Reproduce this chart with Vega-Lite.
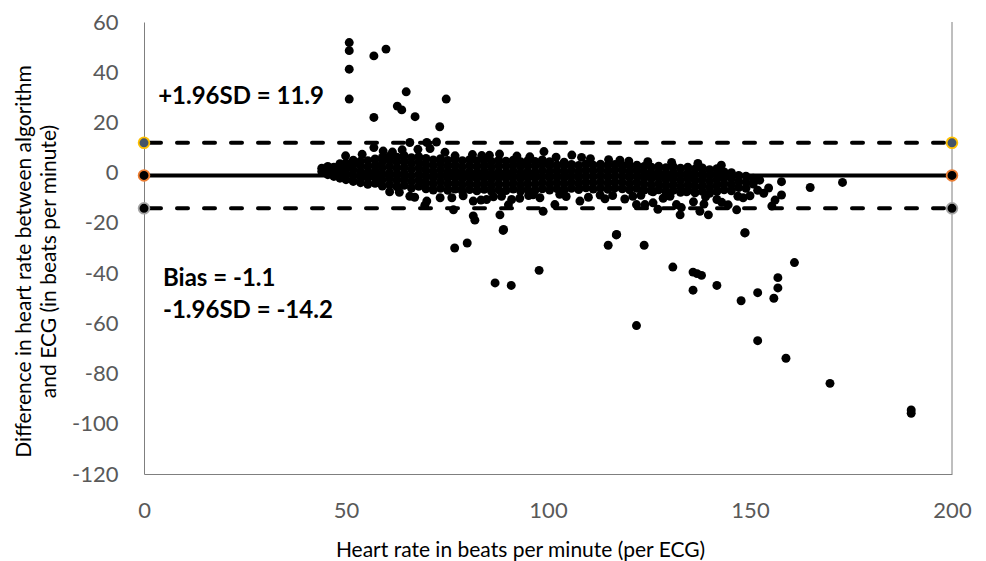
{
  "$schema": "https://vega.github.io/schema/vega-lite/v6.json",
  "width": 808,
  "height": 452,
  "autosize": {"type": "none"},
  "padding": {"left": 144, "top": 22, "right": 34, "bottom": 87},
  "background": "white",
  "config": {"view": {"stroke": null}, "font": "Lato"},
  "datasets": {
    "pts": [
      {"hr":50.8,"diff":51.8},{"hr":50.8,"diff":48.6},{"hr":50.8,"diff":41.2},{"hr":50.8,"diff":29.3},{"hr":56.9,"diff":46.5},{"hr":59.9,"diff":49.2},{"hr":56.9,"diff":22},{"hr":64.9,"diff":32.2},{"hr":62.7,"diff":26.5},{"hr":63.8,"diff":25},{"hr":67.1,"diff":22.3},{"hr":74.8,"diff":29.3},{"hr":73.2,"diff":18.3},
      {"hr":49.9,"diff":6.7},{"hr":56.9,"diff":10},{"hr":59.2,"diff":8.6},{"hr":65.8,"diff":12},{"hr":70,"diff":12},{"hr":72.4,"diff":12.2},{"hr":77,"diff":6.7},{"hr":81.3,"diff":7.2},{"hr":99,"diff":8.4},{"hr":105.9,"diff":7},{"hr":61.5,"diff":8.2},{"hr":67.8,"diff":9.3},{"hr":74.5,"diff":8.1},{"hr":85.5,"diff":6.9},{"hr":92.3,"diff":6.6},{"hr":110.5,"diff":5.6},{"hr":95.5,"diff":6.3},{"hr":88,"diff":7.4},{"hr":115,"diff":5.2},{"hr":120,"diff":4.6},{"hr":102,"diff":6.2},{"hr":70.8,"diff":9.6},{"hr":54,"diff":7.3},
      {"hr":108.3,"diff":6.1},{"hr":124.7,"diff":4.4},{"hr":130.6,"diff":4.1},{"hr":137.1,"diff":3.7},{"hr":142.9,"diff":3.0},{"hr":117.8,"diff":5.0},{"hr":83.6,"diff":6.8},{"hr":63.9,"diff":9.1},
      {"hr":44.0,"diff":0.5},{"hr":44.0,"diff":1.8},
      {"hr":45.5,"diff":-0.8},{"hr":45.5,"diff":1.2},{"hr":45.5,"diff":2.5},
      {"hr":47.0,"diff":-1.5},{"hr":47.0,"diff":0.3},{"hr":47.0,"diff":2.2},
      {"hr":48.5,"diff":-2.2},{"hr":48.5,"diff":0.0},{"hr":48.5,"diff":2.1},{"hr":48.5,"diff":3.6},
      {"hr":50.0,"diff":-2.8},{"hr":50.0,"diff":-0.5},{"hr":50.0,"diff":1.8},{"hr":50.0,"diff":3.9},
      {"hr":51.8,"diff":-3.5},{"hr":51.8,"diff":-1.2},{"hr":51.8,"diff":1.0},{"hr":51.8,"diff":3.2},{"hr":51.8,"diff":5.0},
      {"hr":53.6,"diff":-4.0},{"hr":53.6,"diff":-1.8},{"hr":53.6,"diff":0.5},{"hr":53.6,"diff":2.8},{"hr":53.6,"diff":4.6},
      {"hr":55.4,"diff":-4.6},{"hr":55.4,"diff":-2.2},{"hr":55.4,"diff":0.1},{"hr":55.4,"diff":2.4},{"hr":55.4,"diff":4.8},
      {"hr":57.2,"diff":-4.2},{"hr":57.2,"diff":-1.9},{"hr":57.2,"diff":0.6},{"hr":57.2,"diff":3.0},{"hr":57.2,"diff":5.5},
      {"hr":59.0,"diff":-5.3},{"hr":59.0,"diff":-2.9},{"hr":59.0,"diff":-0.5},{"hr":59.0,"diff":1.9},{"hr":59.0,"diff":4.2},{"hr":59.0,"diff":6.1},
      {"hr":60.8,"diff":-4.8},{"hr":60.8,"diff":-2.4},{"hr":60.8,"diff":0.0},{"hr":60.8,"diff":2.5},{"hr":60.8,"diff":4.9},{"hr":60.8,"diff":6.6},
      {"hr":62.6,"diff":-5.6},{"hr":62.6,"diff":-3.1},{"hr":62.6,"diff":-0.7},{"hr":62.6,"diff":1.7},{"hr":62.6,"diff":4.1},{"hr":62.6,"diff":6.2},
      {"hr":64.4,"diff":-5.0},{"hr":64.4,"diff":-2.6},{"hr":64.4,"diff":-0.2},{"hr":64.4,"diff":2.2},{"hr":64.4,"diff":4.6},{"hr":64.4,"diff":6.8},
      {"hr":66.2,"diff":-6.1},{"hr":66.2,"diff":-3.6},{"hr":66.2,"diff":-1.2},{"hr":66.2,"diff":1.3},{"hr":66.2,"diff":3.7},{"hr":66.2,"diff":6.0},
      {"hr":68.0,"diff":-5.4},{"hr":68.0,"diff":-3.0},{"hr":68.0,"diff":-0.6},{"hr":68.0,"diff":1.9},{"hr":68.0,"diff":4.3},{"hr":68.0,"diff":6.4},
      {"hr":69.8,"diff":-6.4},{"hr":69.8,"diff":-4.0},{"hr":69.8,"diff":-1.5},{"hr":69.8,"diff":0.9},{"hr":69.8,"diff":3.3},{"hr":69.8,"diff":5.7},
      {"hr":71.6,"diff":-6.9},{"hr":71.6,"diff":-4.5},{"hr":71.6,"diff":-2.1},{"hr":71.6,"diff":0.4},{"hr":71.6,"diff":2.8},{"hr":71.6,"diff":5.1},
      {"hr":73.4,"diff":-6.2},{"hr":73.4,"diff":-3.7},{"hr":73.4,"diff":-1.3},{"hr":73.4,"diff":1.1},{"hr":73.4,"diff":3.5},{"hr":73.4,"diff":5.6},
      {"hr":75.2,"diff":-7.0},{"hr":75.2,"diff":-4.6},{"hr":75.2,"diff":-2.2},{"hr":75.2,"diff":0.2},{"hr":75.2,"diff":2.6},{"hr":75.2,"diff":4.9},
      {"hr":77.0,"diff":-6.5},{"hr":77.0,"diff":-4.1},{"hr":77.0,"diff":-1.7},{"hr":77.0,"diff":0.8},{"hr":77.0,"diff":3.2},{"hr":77.0,"diff":5.4},
      {"hr":78.8,"diff":-7.3},{"hr":78.8,"diff":-4.9},{"hr":78.8,"diff":-2.5},{"hr":78.8,"diff":-0.1},{"hr":78.8,"diff":2.3},{"hr":78.8,"diff":4.8},
      {"hr":80.6,"diff":-6.7},{"hr":80.6,"diff":-4.3},{"hr":80.6,"diff":-1.9},{"hr":80.6,"diff":0.5},{"hr":80.6,"diff":2.9},{"hr":80.6,"diff":5.2},
      {"hr":82.4,"diff":-7.2},{"hr":82.4,"diff":-4.8},{"hr":82.4,"diff":-2.4},{"hr":82.4,"diff":0.0},{"hr":82.4,"diff":2.4},{"hr":82.4,"diff":4.7},
      {"hr":84.2,"diff":-6.6},{"hr":84.2,"diff":-4.2},{"hr":84.2,"diff":-1.8},{"hr":84.2,"diff":0.6},{"hr":84.2,"diff":3.0},{"hr":84.2,"diff":5.0},
      {"hr":86.0,"diff":-7.4},{"hr":86.0,"diff":-5.0},{"hr":86.0,"diff":-2.6},{"hr":86.0,"diff":-0.2},{"hr":86.0,"diff":2.2},{"hr":86.0,"diff":4.5},
      {"hr":87.8,"diff":-6.8},{"hr":87.8,"diff":-4.4},{"hr":87.8,"diff":-2.0},{"hr":87.8,"diff":0.4},{"hr":87.8,"diff":2.8},{"hr":87.8,"diff":4.9},
      {"hr":89.6,"diff":-7.1},{"hr":89.6,"diff":-4.7},{"hr":89.6,"diff":-2.3},{"hr":89.6,"diff":0.1},{"hr":89.6,"diff":2.5},{"hr":89.6,"diff":4.6},
      {"hr":91.4,"diff":-6.5},{"hr":91.4,"diff":-4.1},{"hr":91.4,"diff":-1.7},{"hr":91.4,"diff":0.7},{"hr":91.4,"diff":3.1},{"hr":91.4,"diff":5.0},
      {"hr":93.2,"diff":-7.3},{"hr":93.2,"diff":-4.9},{"hr":93.2,"diff":-2.5},{"hr":93.2,"diff":-0.1},{"hr":93.2,"diff":2.3},{"hr":93.2,"diff":4.4},
      {"hr":95.0,"diff":-6.7},{"hr":95.0,"diff":-4.3},{"hr":95.0,"diff":-1.9},{"hr":95.0,"diff":0.5},{"hr":95.0,"diff":2.9},{"hr":95.0,"diff":4.8},
      {"hr":96.8,"diff":-7.0},{"hr":96.8,"diff":-4.6},{"hr":96.8,"diff":-2.2},{"hr":96.8,"diff":0.2},{"hr":96.8,"diff":2.6},{"hr":96.8,"diff":4.5},
      {"hr":98.6,"diff":-6.4},{"hr":98.6,"diff":-4.0},{"hr":98.6,"diff":-1.6},{"hr":98.6,"diff":0.8},{"hr":98.6,"diff":3.2},{"hr":98.6,"diff":5.1},
      {"hr":100.4,"diff":-6.9},{"hr":100.4,"diff":-4.5},{"hr":100.4,"diff":-2.1},{"hr":100.4,"diff":0.3},{"hr":100.4,"diff":2.7},{"hr":100.4,"diff":4.4},
      {"hr":102.2,"diff":-6.3},{"hr":102.2,"diff":-3.9},{"hr":102.2,"diff":-1.5},{"hr":102.2,"diff":0.9},{"hr":102.2,"diff":3.1},
      {"hr":104.0,"diff":-6.8},{"hr":104.0,"diff":-4.4},{"hr":104.0,"diff":-2.0},{"hr":104.0,"diff":0.4},{"hr":104.0,"diff":2.8},{"hr":104.0,"diff":4.2},
      {"hr":105.8,"diff":-6.2},{"hr":105.8,"diff":-3.8},{"hr":105.8,"diff":-1.4},{"hr":105.8,"diff":1.0},{"hr":105.8,"diff":3.3},
      {"hr":107.6,"diff":-6.7},{"hr":107.6,"diff":-4.3},{"hr":107.6,"diff":-1.9},{"hr":107.6,"diff":0.5},{"hr":107.6,"diff":2.9},
      {"hr":109.4,"diff":-6.0},{"hr":109.4,"diff":-3.6},{"hr":109.4,"diff":-1.2},{"hr":109.4,"diff":1.2},{"hr":109.4,"diff":3.5},
      {"hr":111.2,"diff":-6.5},{"hr":111.2,"diff":-4.1},{"hr":111.2,"diff":-1.7},{"hr":111.2,"diff":0.7},{"hr":111.2,"diff":3.0},
      {"hr":113.0,"diff":-6.1},{"hr":113.0,"diff":-3.7},{"hr":113.0,"diff":-1.3},{"hr":113.0,"diff":1.1},{"hr":113.0,"diff":3.4},
      {"hr":114.8,"diff":-6.6},{"hr":114.8,"diff":-4.2},{"hr":114.8,"diff":-1.8},{"hr":114.8,"diff":0.6},{"hr":114.8,"diff":2.9},
      {"hr":116.6,"diff":-6.0},{"hr":116.6,"diff":-3.6},{"hr":116.6,"diff":-1.2},{"hr":116.6,"diff":1.2},{"hr":116.6,"diff":3.3},
      {"hr":118.4,"diff":-6.4},{"hr":118.4,"diff":-4.0},{"hr":118.4,"diff":-1.6},{"hr":118.4,"diff":0.8},{"hr":118.4,"diff":2.9},
      {"hr":120.2,"diff":-6.8},{"hr":120.2,"diff":-4.4},{"hr":120.2,"diff":-2.0},{"hr":120.2,"diff":0.4},{"hr":120.2,"diff":2.7},
      {"hr":122.0,"diff":-6.2},{"hr":122.0,"diff":-3.8},{"hr":122.0,"diff":-1.4},{"hr":122.0,"diff":1.0},{"hr":122.0,"diff":3.0},
      {"hr":123.8,"diff":-6.9},{"hr":123.8,"diff":-4.5},{"hr":123.8,"diff":-2.1},{"hr":123.8,"diff":0.3},{"hr":123.8,"diff":2.5},
      {"hr":125.6,"diff":-7.3},{"hr":125.6,"diff":-4.9},{"hr":125.6,"diff":-2.5},{"hr":125.6,"diff":-0.1},{"hr":125.6,"diff":2.2},
      {"hr":127.4,"diff":-6.8},{"hr":127.4,"diff":-4.4},{"hr":127.4,"diff":-2.0},{"hr":127.4,"diff":0.4},{"hr":127.4,"diff":2.6},
      {"hr":129.2,"diff":-7.6},{"hr":129.2,"diff":-5.2},{"hr":129.2,"diff":-2.8},{"hr":129.2,"diff":-0.4},{"hr":129.2,"diff":2.0},
      {"hr":131.0,"diff":-7.0},{"hr":131.0,"diff":-4.6},{"hr":131.0,"diff":-2.2},{"hr":131.0,"diff":0.2},{"hr":131.0,"diff":2.4},
      {"hr":132.8,"diff":-7.8},{"hr":132.8,"diff":-5.4},{"hr":132.8,"diff":-3.0},{"hr":132.8,"diff":-0.6},{"hr":132.8,"diff":1.8},
      {"hr":134.6,"diff":-7.2},{"hr":134.6,"diff":-4.8},{"hr":134.6,"diff":-2.4},{"hr":134.6,"diff":0.0},{"hr":134.6,"diff":2.2},
      {"hr":136.4,"diff":-8.0},{"hr":136.4,"diff":-5.6},{"hr":136.4,"diff":-3.2},{"hr":136.4,"diff":-0.8},{"hr":136.4,"diff":1.5},
      {"hr":138.2,"diff":-7.4},{"hr":138.2,"diff":-5.0},{"hr":138.2,"diff":-2.6},{"hr":138.2,"diff":-0.2},{"hr":138.2,"diff":1.9},
      {"hr":140.0,"diff":-8.2},{"hr":140.0,"diff":-5.8},{"hr":140.0,"diff":-3.4},{"hr":140.0,"diff":-1.0},{"hr":140.0,"diff":1.2},
      {"hr":141.8,"diff":-7.5},{"hr":141.8,"diff":-5.1},{"hr":141.8,"diff":-2.7},{"hr":141.8,"diff":-0.3},{"hr":141.8,"diff":1.6},
      {"hr":143.6,"diff":-6.8},{"hr":143.6,"diff":-4.4},{"hr":143.6,"diff":-2.0},{"hr":143.6,"diff":0.3},
      {"hr":145.4,"diff":-7.2},{"hr":145.4,"diff":-4.8},{"hr":145.4,"diff":-2.4},{"hr":145.4,"diff":0.0},
      {"hr":147.2,"diff":-5.9},{"hr":147.2,"diff":-3.5},{"hr":147.2,"diff":-1.1},
      {"hr":149.0,"diff":-6.2},{"hr":149.0,"diff":-3.8},{"hr":149.0,"diff":-1.4},
      {"hr":150.8,"diff":-4.5},{"hr":150.8,"diff":-2.2},
      {"hr":152.4,"diff":-3.0},
      {"hr":60.8,"diff":-7.6},{"hr":65.8,"diff":-9.4},{"hr":67,"diff":-9.8},{"hr":70,"diff":-11.3},{"hr":69.5,"diff":-13},{"hr":73.3,"diff":-10},{"hr":76.2,"diff":-10},{"hr":76.6,"diff":-14.8},{"hr":81.5,"diff":-11.3},{"hr":81.5,"diff":-17.2},{"hr":83.4,"diff":-10.9},{"hr":84.8,"diff":-10.7},{"hr":88.5,"diff":-9.4},{"hr":88.1,"diff":-16.8},{"hr":89,"diff":-22.6},{"hr":91,"diff":-10.7},{"hr":93,"diff":-10.2},{"hr":98,"diff":-10},{"hr":98.8,"diff":-15.4},{"hr":101.7,"diff":-12.7},{"hr":107.9,"diff":-11.3},{"hr":112.9,"diff":-8.9},{"hr":117,"diff":-24.6},{"hr":121,"diff":-9.4},{"hr":121.9,"diff":-12.7},{"hr":124,"diff":-12.7},{"hr":126,"diff":-12},{"hr":126,"diff":-7.6},{"hr":131.8,"diff":-12.7},{"hr":132.7,"diff":-16.8},{"hr":134.3,"diff":-7.6},{"hr":137.6,"diff":-15.4},{"hr":139.7,"diff":-16.8},{"hr":141.8,"diff":-10.7},{"hr":146.7,"diff":-14.8},{"hr":147,"diff":-9.4},{"hr":148.3,"diff":-10},{"hr":148.7,"diff":-24},{"hr":151.9,"diff":-7},{"hr":155.4,"diff":-13.3},{"hr":157.8,"diff":-3.6},{"hr":157.8,"diff":-8.9},{"hr":164.9,"diff":-5.9},{"hr":172.9,"diff":-3.9},
      {"hr":63.2,"diff":-7.8},{"hr":79,"diff":-9.2},{"hr":86.5,"diff":-9.6},{"hr":95.2,"diff":-9.1},{"hr":104.5,"diff":-9.5},{"hr":110,"diff":-9.8},{"hr":116,"diff":-9.1},{"hr":119,"diff":-10.5},{"hr":128.5,"diff":-10.2},{"hr":130.2,"diff":-9.4},{"hr":136,"diff":-11.6},{"hr":138.6,"diff":-12.5},{"hr":143,"diff":-11.8},{"hr":144.6,"diff":-12.8},{"hr":150,"diff":-9.2},{"hr":153.4,"diff":-8.2},{"hr":154.6,"diff":-6.1},{"hr":156.2,"diff":-10.9},{"hr":133,"diff":-13.9},{"hr":127.2,"diff":-14.6},
      {"hr":96.3,"diff":-8.8},{"hr":102.9,"diff":-8.6},{"hr":114.1,"diff":-10.4},{"hr":123,"diff":-9.0},{"hr":139,"diff":-9.6},{"hr":90.2,"diff":-12.8},
      {"hr":76.9,"diff":-30},{"hr":80,"diff":-28},{"hr":88.9,"diff":-23},{"hr":81.9,"diff":-18.9},{"hr":86.9,"diff":-43.9},{"hr":90.9,"diff":-44.9},{"hr":97.8,"diff":-38.9},{"hr":114.9,"diff":-28.9},{"hr":116.9,"diff":-24.8},{"hr":123.8,"diff":-28.9},{"hr":121.9,"diff":-60.9},{"hr":130.9,"diff":-37.6},{"hr":135.9,"diff":-39.6},{"hr":136.9,"diff":-40.2},{"hr":138,"diff":-40.9},{"hr":135.9,"diff":-46.8},{"hr":141.8,"diff":-44.9},{"hr":148.8,"diff":-23.9},{"hr":147.8,"diff":-51},{"hr":151.9,"diff":-47.8},{"hr":151.9,"diff":-66.9},{"hr":155.9,"diff":-50},{"hr":156.9,"diff":-41.8},{"hr":156.9,"diff":-45.9},{"hr":158.9,"diff":-73.9},{"hr":161,"diff":-35.8},{"hr":169.8,"diff":-83.9},{"hr":189.9,"diff":-94.5},{"hr":189.9,"diff":-95.8}
    ],
    "limits": [
      {"k": "upper", "diff": 11.9, "from": 0, "to": 200},
      {"k": "bias", "diff": -1.1, "from": 0, "to": 200},
      {"k": "lower", "diff": -14.2, "from": 0, "to": 200}
    ],
    "frame": [
      {"hr": 200, "lo": -120, "hi": 60}
    ],
    "ends": [
      {"k": "upper", "hr": 0, "diff": 11.9},
      {"k": "upper", "hr": 200, "diff": 11.9},
      {"k": "bias", "hr": 0, "diff": -1.1},
      {"k": "bias", "hr": 200, "diff": -1.1},
      {"k": "lower", "hr": 0, "diff": -14.2},
      {"k": "lower", "hr": 200, "diff": -14.2}
    ],
    "notes": [
      {"hr": 3.5, "diff": 30.1, "label": "+1.96SD = 11.9"},
      {"hr": 4.7, "diff": -42.3, "label": "Bias = -1.1"},
      {"hr": 4.7, "diff": -55.2, "label": "-1.96SD = -14.2"}
    ]
  },
  "layer": [
    {
      "data": {"name": "limits"},
      "transform": [{"filter": "datum.k == 'bias'"}],
      "mark": {"type": "rule", "color": "#000000", "strokeWidth": 4},
      "encoding": {
        "x": {
          "field": "from", "type": "quantitative",
          "scale": {"domain": [0, 200], "nice": false, "zero": false},
          "axis": {
            "values": [0, 50, 100, 150, 200],
            "labelExpr": "'' + datum.value",
            "labelFlush": false, "labelOverlap": false,
            "grid": false, "ticks": false, "tickSize": 0,
            "domainColor": "#7f7f7f", "domainWidth": 1,
            "labelFont": "Lato", "labelFontSize": 22, "labelColor": "#595959", "labelPadding": 26,
            "title": "Heart rate in beats per minute (per ECG)",
            "titleFont": "Lato", "titleFontSize": 21, "titleFontWeight": "normal", "titleColor": "#000000",
            "titleX": 376, "titleY": 82, "titleAlign": "center", "titleBaseline": "alphabetic"
          }
        },
        "x2": {"field": "to"},
        "y": {
          "field": "diff", "type": "quantitative",
          "scale": {"domain": [-120, 60], "nice": false, "zero": false},
          "axis": {
            "values": [-120, -100, -80, -60, -40, -20, 0, 20, 40, 60],
            "labelExpr": "'' + datum.value",
            "labelOverlap": false, "labelFlush": false,
            "grid": false, "ticks": false, "tickSize": 0,
            "domainColor": "#7f7f7f", "domainWidth": 1,
            "labelFont": "Lato", "labelFontSize": 22, "labelColor": "#595959", "labelPadding": 26,
            "title": ["Difference in heart rate between algorithm", "and ECG (in beats per minute)"],
            "titleFont": "Lato", "titleFontSize": 21, "titleFontWeight": "normal", "titleColor": "#000000",
            "titleLineHeight": 25,
            "titleAngle": -90, "titleX": -114, "titleY": 239, "titleAlign": "center", "titleBaseline": "alphabetic"
          }
        }
      }
    },
    {
      "data": {"name": "limits"},
      "transform": [{"filter": "datum.k != 'bias'"}],
      "mark": {"type": "rule", "color": "#000000", "strokeWidth": 4, "strokeDash": [11, 16], "strokeCap": "round", "strokeDashOffset": -6},
      "encoding": {
        "x": {"field": "from", "type": "quantitative"},
        "x2": {"field": "to"},
        "y": {"field": "diff", "type": "quantitative"}
      }
    },
    {
      "data": {"name": "frame"},
      "mark": {"type": "rule", "color": "#7f7f7f", "strokeWidth": 1},
      "encoding": {
        "x": {"field": "hr", "type": "quantitative"},
        "y": {"field": "lo", "type": "quantitative"},
        "y2": {"field": "hi"}
      }
    },
    {
      "data": {"name": "pts"},
      "mark": {"type": "circle", "color": "#000000", "opacity": 1, "size": 80},
      "encoding": {
        "x": {"field": "hr", "type": "quantitative"},
        "y": {"field": "diff", "type": "quantitative"}
      }
    },
    {
      "data": {"name": "ends"},
      "mark": {"type": "point", "shape": "circle", "filled": true, "size": 115, "strokeWidth": 1.8, "opacity": 1},
      "encoding": {
        "x": {"field": "hr", "type": "quantitative"},
        "y": {"field": "diff", "type": "quantitative"},
        "fill": {"field": "k", "type": "nominal", "scale": {"domain": ["upper", "bias", "lower"], "range": ["#44546A", "#000000", "#000000"]}, "legend": null},
        "stroke": {"field": "k", "type": "nominal", "scale": {"domain": ["upper", "bias", "lower"], "range": ["#FFC000", "#ED7D31", "#A5A5A5"]}, "legend": null}
      }
    },
    {
      "data": {"name": "notes"},
      "mark": {"type": "text", "align": "left", "baseline": "middle", "font": "Lato", "fontSize": 24, "fontWeight": "bold", "color": "#000000"},
      "encoding": {
        "x": {"field": "hr", "type": "quantitative"},
        "y": {"field": "diff", "type": "quantitative"},
        "text": {"field": "label", "type": "nominal"}
      }
    }
  ]
}
